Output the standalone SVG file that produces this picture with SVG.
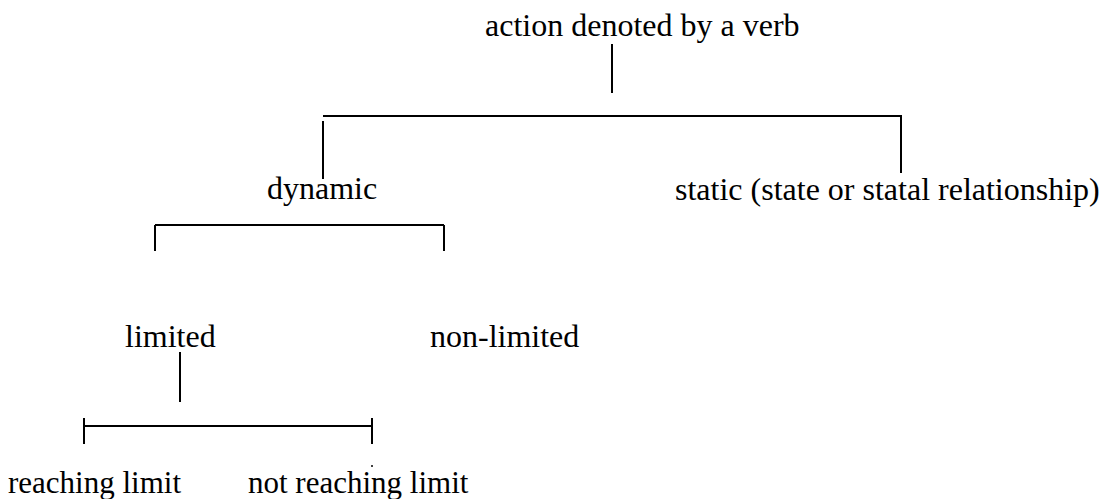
<svg xmlns="http://www.w3.org/2000/svg" width="1102" height="499" viewBox="0 0 1102 499">
  <style>
    .lbl { font-family: "Liberation Serif", "Times New Roman", serif; font-size: 32px; fill: #000; }
    .sm { font-size: 31px; }
    .ln { stroke: #000; stroke-width: 2; fill: none; }
  </style>
  <rect width="1102" height="499" fill="#fff"/>

  <!-- connectors of the verb-action classification tree -->
  <g id="connectors">
    <!-- root stem -->
    <line class="ln" x1="612" y1="44" x2="612" y2="93"/>
    <!-- first split: dynamic / static -->
    <line class="ln" x1="323" y1="116" x2="902" y2="116"/>
    <line class="ln" x1="323" y1="121" x2="323" y2="179"/>
    <line class="ln" x1="901" y1="116" x2="901" y2="173"/>
    <!-- second split: limited / non-limited -->
    <line class="ln" x1="155" y1="225" x2="444" y2="225"/>
    <line class="ln" x1="155" y1="225" x2="155" y2="251"/>
    <line class="ln" x1="444" y1="225" x2="444" y2="251"/>
    <!-- stem under "limited" -->
    <line class="ln" x1="180" y1="352" x2="180" y2="402"/>
    <!-- third split: reaching / not reaching limit -->
    <line class="ln" x1="84" y1="426" x2="372" y2="426"/>
    <line class="ln" x1="84" y1="418" x2="84" y2="444"/>
    <line class="ln" x1="372" y1="418" x2="372" y2="444"/>
    <circle cx="372" cy="466" r="1" fill="#000"/>
  </g>

  <g id="node-action"><text class="lbl" x="485" y="36">action denoted by a verb</text></g>
  <g id="node-dynamic"><text class="lbl" x="267" y="199">dynamic</text></g>
  <g id="node-static"><text class="lbl" x="675" y="200">static (state or statal relationship)</text></g>
  <g id="node-limited"><text class="lbl" x="125" y="347">limited</text></g>
  <g id="node-non-limited"><text class="lbl" x="430" y="347">non-limited</text></g>
  <g id="node-reaching"><text class="lbl sm" x="8" y="493">reaching limit</text></g>
  <g id="node-not-reaching"><text class="lbl sm" x="248" y="493">not reaching limit</text></g>
</svg>
